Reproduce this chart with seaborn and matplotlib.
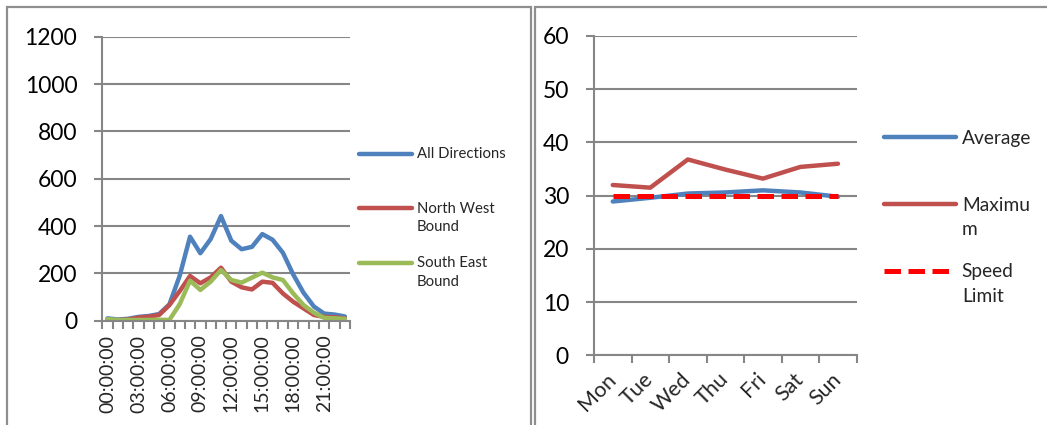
import numpy as np
import pandas as pd
import matplotlib
matplotlib.use("Agg")
import matplotlib.pyplot as plt
import seaborn as sns
from matplotlib.legend_handler import HandlerLine2D
from matplotlib.patches import Rectangle

# ---- hourly traffic counts ----
hours = ["00:00:00", "01:00:00", "02:00:00", "03:00:00", "04:00:00", "05:00:00",
         "06:00:00", "07:00:00", "08:00:00", "09:00:00", "10:00:00", "11:00:00",
         "12:00:00", "13:00:00", "14:00:00", "15:00:00", "16:00:00", "17:00:00",
         "18:00:00", "19:00:00", "20:00:00", "21:00:00", "22:00:00", "23:00:00"]
all_directions = [10, 5, 8, 16, 20, 28, 69, 190, 355, 285, 345, 442,
                  338, 302, 312, 366, 342, 287, 195, 118, 60, 30, 26, 18]
north_west = [3, 2, 5, 13, 17, 24, 66, 125, 189, 158, 183, 224,
              165, 141, 132, 165, 160, 115, 80, 52, 24, 16, 14, 10]
south_east = [7, 3, 3, 3, 3, 4, 3, 70, 169, 130, 165, 214,
              172, 161, 182, 203, 183, 172, 115, 66, 34, 12, 10, 8]
count_labels = ["All Directions\n", "North West\nBound", "South East\nBound"]

# ---- daily speeds ----
days = ["Mon", "Tue", "Wed", "Thu", "Fri", "Sat", "Sun"]
speed_average = [28.9, 29.6, 30.4, 30.6, 31.0, 30.6, 29.8]
speed_maximum = [32.0, 31.5, 36.8, 34.9, 33.2, 35.4, 36.0]
speed_limit = [30, 30, 30, 30, 30, 30, 30]
speed_labels = ["Average\n", "Maximu\nm", "Speed\nLimit"]

BLUE, RED, GREEN, LIMIT_RED = "#4F81BD", "#C0504D", "#9BBB59", "#FF0000"
GRID = "#868686"
LW = 3.2

sns.set_style("white")
plt.rcParams["font.family"] = ["Lato", "DejaVu Sans"]

W, H = 1047, 425
fig = plt.figure(figsize=(W / 100, H / 100), dpi=100)


def px_box(x0, x1, ytop, ybot):
    return [x0 / W, (H - ybot) / H, (x1 - x0) / W, (ybot - ytop) / H]


class FirstLineHandler(HandlerLine2D):
    """Legend key aligned with the first line of a two-line label."""

    def __init__(self, shift, **kw):
        super().__init__(**kw)
        self.shift = shift

    def create_artists(self, legend, orig_handle, xdescent, ydescent,
                       width, height, fontsize, trans):
        arts = super().create_artists(legend, orig_handle, xdescent, ydescent,
                                      width, height, fontsize, trans)
        for a in arts:
            a.set_ydata(np.asarray(a.get_ydata(), dtype=float) + self.shift * fontsize)
        return arts


def style_axes(ax, n_cat, ymax, ystep, ylab_size):
    ax.set_xlim(-0.5, n_cat - 0.5)
    ax.set_ylim(0, ymax)
    ax.set_yticks(np.arange(0, ymax + ystep, ystep))
    ax.grid(axis="y", color=GRID, linewidth=1.5)
    ax.set_axisbelow(True)
    for s in ("top", "right"):
        ax.spines[s].set_visible(False)
    for s in ("left", "bottom"):
        ax.spines[s].set_color(GRID)
        ax.spines[s].set_linewidth(1.5)
    ax.set_xticks(np.arange(n_cat + 1) - 0.5)
    ax.set_xticklabels([])
    ax.tick_params(axis="x", which="major", length=6, width=1.5, color=GRID,
                   direction="out", bottom=True)
    ax.tick_params(axis="y", length=6, width=1.5, color=GRID, direction="out",
                   left=True, pad=12, labelsize=ylab_size, labelcolor="black")
    ax.set_xlabel("")
    ax.set_ylabel("")


def add_line(ax, x, y, color, lw, **kw):
    sns.lineplot(x=x, y=y, color=color, ax=ax, **kw)
    line = ax.lines[-1]
    line.set_linewidth(lw)
    return line


solid = dict(solid_capstyle="round", solid_joinstyle="round")

# ---------------- left: traffic counts ----------------
ax1 = fig.add_axes(px_box(102.3, 350, 36.7, 320.7))
x_h = np.arange(len(hours))
l1 = add_line(ax1, x_h, all_directions, BLUE, LW, **solid)
l2 = add_line(ax1, x_h, north_west, RED, LW, **solid)
l3 = add_line(ax1, x_h, south_east, GREEN, LW, **solid)
style_axes(ax1, len(hours), 1200, 200, 16.5)
ax1.set_xticks(x_h[::3], minor=True)
ax1.set_xticklabels(hours[::3], minor=True, rotation=90, ha="center", va="top")
ax1.tick_params(axis="x", which="minor", length=0, pad=10, labelsize=14)

leg1 = ax1.legend([l1, l2, l3], count_labels, loc="upper left",
                  bbox_to_anchor=(359 / W, 1 - 147 / H), bbox_transform=fig.transFigure,
                  frameon=False, fontsize=10.7, handlelength=3.55, handletextpad=0.33,
                  borderpad=0, borderaxespad=0, labelspacing=1.5,
                  handler_map={l: FirstLineHandler(0.66) for l in (l1, l2, l3)})
for t in leg1.get_texts():
    t.set_linespacing(1.4)

# ---------------- right: speeds ----------------
ax2 = fig.add_axes(px_box(594, 856.7, 36, 355.3))
x_d = np.arange(len(days))
r1 = add_line(ax2, x_d, speed_average, BLUE, LW, **solid)
r2 = add_line(ax2, x_d, speed_maximum, RED, LW, **solid)
r3 = add_line(ax2, x_d, speed_limit, LIMIT_RED, 3.6)
r3.set_dashes((3.3, 1.5))
r3.set_dash_capstyle("butt")
style_axes(ax2, len(days), 60, 10, 16.5)
ax2.set_xticks(x_d, minor=True)
ax2.set_xticklabels(days, minor=True, rotation=45, ha="right", va="center",
                    rotation_mode="anchor")
ax2.tick_params(axis="x", which="minor", length=0, pad=15, labelsize=15.5)

leg2 = ax2.legend([r1, r2, r3], speed_labels, loc="upper left",
                  bbox_to_anchor=(884 / W, 1 - 130 / H), bbox_transform=fig.transFigure,
                  frameon=False, fontsize=13.8, handlelength=3.75, handletextpad=0.31,
                  borderpad=0, borderaxespad=0, labelspacing=1.3,
                  handler_map={l: FirstLineHandler(0.72) for l in (r1, r2, r3)})
for t in leg2.get_texts():
    t.set_linespacing(1.55)

# ---------------- chart area borders ----------------
for x0, x1 in ((7, 531), (535, 1100)):
    fig.add_artist(Rectangle((x0 / W, -0.1), (x1 - x0) / W, 1.1 - 7 / H,
                             transform=fig.transFigure, fill=False,
                             edgecolor="#8E8E8E", linewidth=1.6, clip_on=False))

fig.savefig("out.png", dpi=100, facecolor="white")
